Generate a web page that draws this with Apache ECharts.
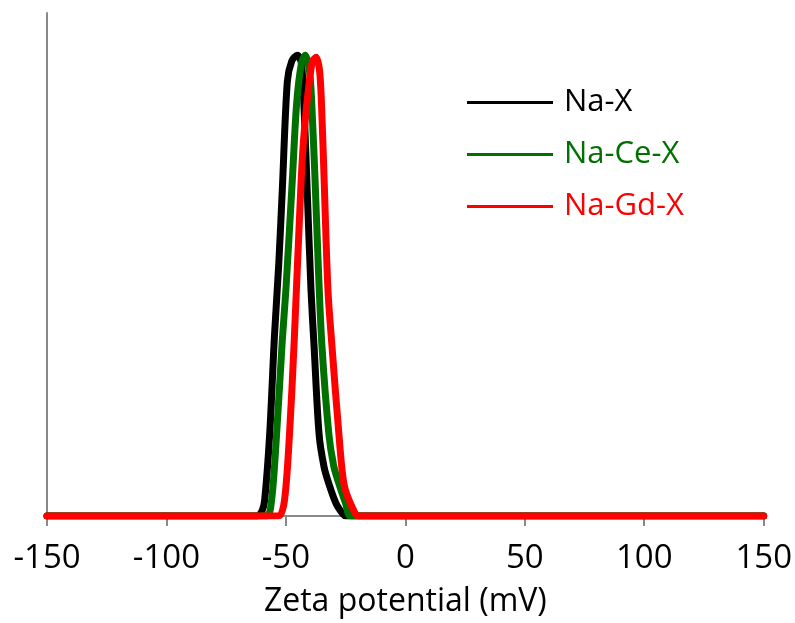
<!DOCTYPE html>
<html>
<head>
<meta charset="utf-8">
<script src="https://cdn.jsdelivr.net/npm/echarts@6/dist/echarts.min.js"></script>
<style>html,body{margin:0;padding:0;background:#fff}#c{width:795px;height:623px}</style>
</head>
<body>
<div id="c"></div>
<script>
const seriesNames = ['Na-X', 'Na-Ce-X', 'Na-Gd-X'];
const seriesColors = ['#000000', '#007000', '#ff0000'];
const xTicks = [-150, -100, -50, 0, 50, 100, 150];
const naX = [[-150,0],[-70,0],[-62,0],[-60,1],[-58.9,3.1],[-56.8,16.2],[-54.8,35.7],[-53,50],[-51.5,64.9],[-49.4,86.4],[-47.5,90.5],[-45.2,91.6],[-43.5,90],[-42.3,80],[-41.1,64.9],[-39.5,45],[-38.2,33.7],[-36.1,16.2],[-34,9.7],[-32,6.4],[-29,2.5],[-26,0.3],[-25,0],[-18,0],[150,0]];
const naCeX = [[-150,0],[-66,0],[-58,0],[-56,3.1],[-53.9,16.2],[-51.5,35],[-50,45],[-47.3,66.9],[-45.5,82],[-43.5,90],[-41.9,91.6],[-40,88],[-38.8,78],[-37.8,66.9],[-36.3,48],[-34.9,33.7],[-32,16.2],[-30,10],[-27.8,6.4],[-25,2.5],[-23,0],[-16,0],[150,0]];
const naGdX = [[-150,0],[-61,0],[-53,0],[-50.6,3.1],[-48.5,16.2],[-46.5,35],[-43.6,66.9],[-42.3,76.6],[-40.2,86.4],[-38.8,90.5],[-37.3,91.2],[-35.8,88],[-34.8,78],[-34,66.9],[-32.4,45],[-30.7,33.7],[-27.8,16.2],[-25.7,6.4],[-22.5,2],[-19.5,0],[-12,0],[150,0]];
const seriesData = [naX, naCeX, naGdX];

const FONT = 'Open Sans';
const chart = echarts.init(document.getElementById('c'), null, {renderer: 'canvas'});
chart.setOption({
  animation: false,
  backgroundColor: '#fff',
  grid: {left: 47, right: 26, top: 13, bottom: 99, containLabel: false},
  legend: {
    orient: 'vertical',
    left: 462, top: 82,
    itemWidth: 86, itemHeight: 3, itemGap: 21,
    icon: 'rect',
    textStyle: {fontFamily: FONT, fontSize: 31, padding: [0,0,0,6]},
    data: seriesNames.map((n, i) => ({name: n, textStyle: {color: seriesColors[i]}}))
  },
  xAxis: {
    type: 'value', min: -150, max: 150, interval: 50,
    axisLine: {show: true, onZero: false, lineStyle: {color: '#898989', width: 2}},
    axisTick: {show: true, inside: false, length: 10, lineStyle: {color: '#898989', width: 2}},
    splitLine: {show: false},
    axisLabel: {fontFamily: FONT, fontSize: 33, color: '#000', margin: 26,
      formatter: v => xTicks.includes(v) ? String(v) : ''},
    name: 'Zeta potential (mV)', nameLocation: 'middle', nameGap: 70,
    nameTextStyle: {fontFamily: FONT, fontSize: 32, color: '#000'}
  },
  yAxis: {
    type: 'value', min: 0, max: 100,
    axisLine: {show: true, onZero: false, lineStyle: {color: '#898989', width: 2}},
    axisTick: {show: false}, axisLabel: {show: false}, splitLine: {show: false}
  },
  series: seriesNames.map((n, i) => ({
    name: n, type: 'line', data: seriesData[i],
    showSymbol: false, smooth: 0.3,
    lineStyle: {color: seriesColors[i], width: 7, cap: 'round', join: 'round'},
    itemStyle: {color: seriesColors[i]}
  }))
});
</script>
</body>
</html>
